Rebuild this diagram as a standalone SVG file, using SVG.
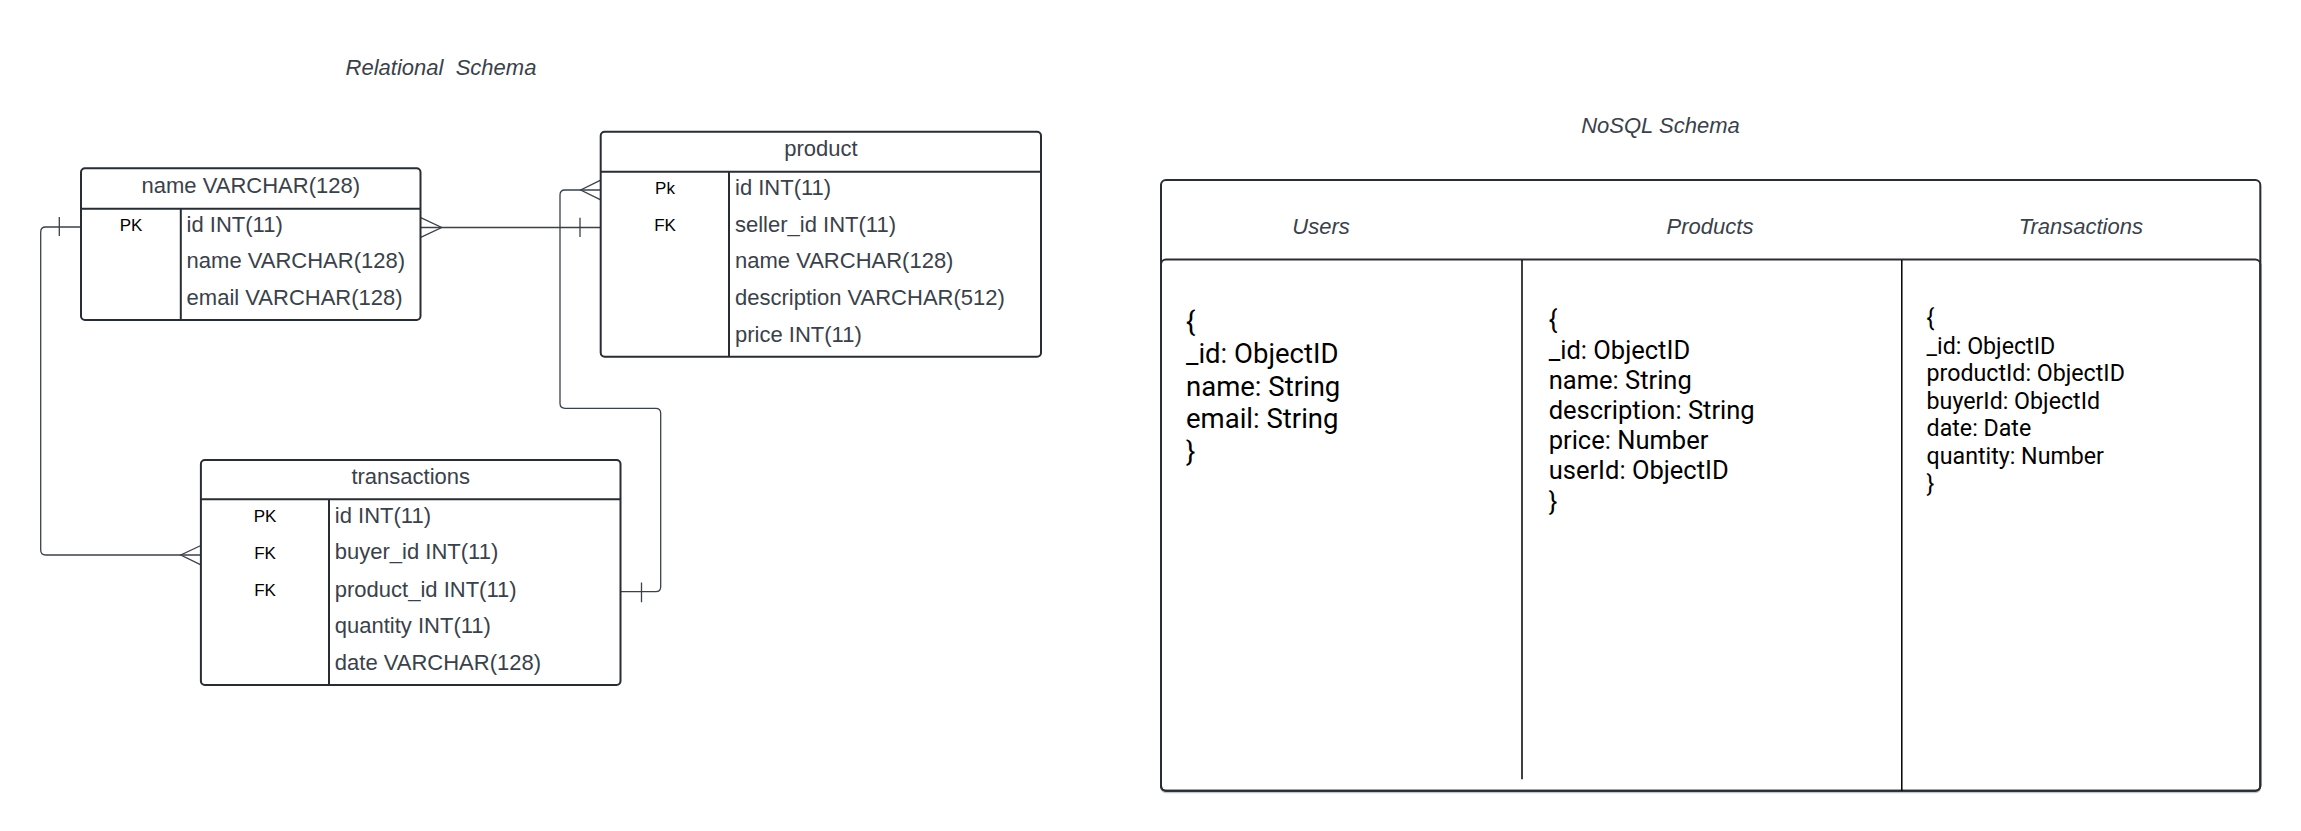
<svg xmlns="http://www.w3.org/2000/svg" width="2301" height="831" viewBox="0 0 2301 831">
  <style>
    .tbl { fill: #ffffff; stroke: #282c33; stroke-width: 2; }
    .sep { stroke: #282c33; stroke-width: 2; fill: none; }
    .hdr { font-family: "Liberation Sans", Arial, sans-serif; font-size: 22px; fill: #3a414a; text-anchor: middle; }
    .fld { font-family: "Liberation Sans", Arial, sans-serif; font-size: 22px; fill: #3a414a; }
    .key { font-family: "Liberation Sans", Arial, sans-serif; font-size: 17px; fill: #000000; text-anchor: middle; }
    .title { font-family: "Liberation Sans", Arial, sans-serif; font-size: 22px; font-style: italic; fill: #3a414a; text-anchor: middle; }
    .conn { fill: none; stroke: #3a414a; stroke-width: 1.3; }
    .doc { font-family: Roboto, "Noto Sans", sans-serif; fill: #000000; }
    .col { stroke: #000000; stroke-width: 1.5; }
  </style>

  <rect width="2301" height="831" fill="#ffffff"/>

  <!-- section titles -->
  <text class="title" x="441" y="75" xml:space="preserve">Relational  Schema</text>
  <text class="title" x="1660.5" y="133.3">NoSQL Schema</text>

  <!-- relational connectors -->
  <g id="connectors">
    <!-- users.id -> product.seller_id -->
    <path class="conn" d="M420.7,227.5 H600.7"/>
    <path class="conn" d="M420.7,217.7 L441.7,227.5 L420.7,237.3"/>
    <path class="conn" d="M580,217.7 V236.9"/>

    <!-- users.id -> transactions.buyer_id -->
    <path class="conn" d="M81,227 H45.7 Q40.7,227 40.7,232 V550 Q40.7,555 45.7,555 H200.9"/>
    <path class="conn" d="M59.3,216.9 V236.1"/>
    <path class="conn" d="M200.9,545.5 L180.8,555 L200.9,564.8"/>

    <!-- product.id -> transactions.product_id -->
    <path class="conn" d="M600.7,190 H565 Q560,190 560,195 V403.3 Q560,408.3 565,408.3 H655.7 Q660.7,408.3 660.7,413.3 V586.7 Q660.7,591.7 655.7,591.7 H620.5"/>
    <path class="conn" d="M600.7,180.2 L580.7,190 L600.7,199.8"/>
    <path class="conn" d="M641.5,582.5 V602.3"/>
  </g>

  <!-- users table -->
  <g id="users">
    <rect class="tbl" x="81" y="168.3" width="339.5" height="151.7" rx="4"/>
    <path class="sep" d="M81,208.7 H420.5 M180.8,208.7 V320"/>
    <text class="hdr" x="250.8" y="193">name VARCHAR(128)</text>
    <text class="key" x="131" y="231">PK</text>
    <text class="fld" x="186.6" y="231.7">id INT(11)</text>
    <text class="fld" x="186.6" y="268.3">name VARCHAR(128)</text>
    <text class="fld" x="186.6" y="305">email VARCHAR(128)</text>
  </g>

  <!-- product table -->
  <g id="product">
    <rect class="tbl" x="600.7" y="131.7" width="440.3" height="225" rx="4"/>
    <path class="sep" d="M600.7,171.7 H1041 M729,171.7 V356.7"/>
    <text class="hdr" x="820.9" y="156">product</text>
    <text class="key" x="665" y="194">Pk</text>
    <text class="key" x="665" y="230.7">FK</text>
    <text class="fld" x="735" y="195">id INT(11)</text>
    <text class="fld" x="735" y="231.7">seller_id INT(11)</text>
    <text class="fld" x="735" y="268.3">name VARCHAR(128)</text>
    <text class="fld" x="735" y="305">description VARCHAR(512)</text>
    <text class="fld" x="735" y="341.7">price INT(11)</text>
  </g>

  <!-- transactions table -->
  <g id="transactions">
    <rect class="tbl" x="200.9" y="460" width="419.6" height="225" rx="4"/>
    <path class="sep" d="M200.9,499.3 H620.5 M329,499.3 V685"/>
    <text class="hdr" x="410.7" y="484">transactions</text>
    <text class="key" x="265" y="522">PK</text>
    <text class="key" x="265" y="558.7">FK</text>
    <text class="key" x="265" y="596">FK</text>
    <text class="fld" x="334.8" y="522.7">id INT(11)</text>
    <text class="fld" x="334.8" y="559.3">buyer_id INT(11)</text>
    <text class="fld" x="334.8" y="596.7">product_id INT(11)</text>
    <text class="fld" x="334.8" y="633.3">quantity INT(11)</text>
    <text class="fld" x="334.8" y="670">date VARCHAR(128)</text>
  </g>

  <!-- document collections -->
  <g id="nosql">
    <rect x="1161" y="181.5" width="1099.3" height="610.7" rx="5" fill="none" stroke="#c4c6c9" stroke-width="2"/>
    <rect class="tbl" x="1161" y="180" width="1099.3" height="610.7" rx="5"/>
    <rect x="1161" y="259.5" width="1099.3" height="531.2" rx="5" fill="none" stroke="#282c33" stroke-width="2"/>
    <line class="col" x1="1522" y1="260" x2="1522" y2="779.3"/>
    <line class="col" x1="1901.8" y1="260" x2="1901.8" y2="790.7"/>
    <text class="title" x="1321" y="234">Users</text>
    <text class="title" x="1710" y="234">Products</text>
    <text class="title" x="2080.8" y="234">Transactions</text>
  </g>

  <g id="users-doc">
    <text class="doc" font-size="27.5" x="1186" y="331">
      <tspan x="1186">{</tspan>
      <tspan x="1186" dy="32.4">_id: ObjectID</tspan>
      <tspan x="1186" dy="32.4">name: String</tspan>
      <tspan x="1186" dy="32.4">email: String</tspan>
      <tspan x="1186" dy="32.4">}</tspan>
    </text>
  </g>

  <g id="products-doc">
    <text class="doc" font-size="25.5" x="1548.7" y="328.3">
      <tspan x="1548.7">{</tspan>
      <tspan x="1548.7" dy="30.2">_id: ObjectID</tspan>
      <tspan x="1548.7" dy="30.2">name: String</tspan>
      <tspan x="1548.7" dy="30.2">description: String</tspan>
      <tspan x="1548.7" dy="30.2">price: Number</tspan>
      <tspan x="1548.7" dy="30.2">userId: ObjectID</tspan>
      <tspan x="1548.7" dy="30.2">}</tspan>
    </text>
  </g>

  <g id="transactions-doc">
    <text class="doc" font-size="23.2" x="1926.6" y="326">
      <tspan x="1926.6">{</tspan>
      <tspan x="1926.6" dy="27.6">_id: ObjectID</tspan>
      <tspan x="1926.6" dy="27.6">productId: ObjectID</tspan>
      <tspan x="1926.6" dy="27.6">buyerId: ObjectId</tspan>
      <tspan x="1926.6" dy="27.6">date: Date</tspan>
      <tspan x="1926.6" dy="27.6">quantity: Number</tspan>
      <tspan x="1926.6" dy="27.6">}</tspan>
    </text>
  </g>
</svg>
